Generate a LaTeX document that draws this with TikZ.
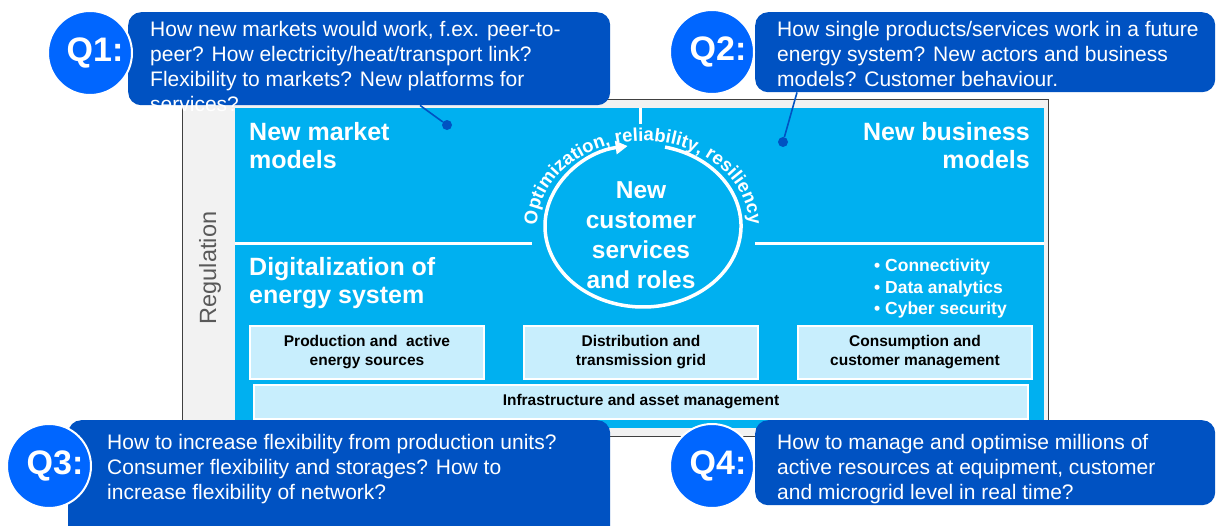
\documentclass[tikz,border=0pt]{standalone}
\usepackage{fontspec}
\setmainfont{Liberation Sans}
\usetikzlibrary{positioning, arrows.meta, decorations.text, calc}

\definecolor{qdark}{RGB}{0,82,194}
\definecolor{qlight}{RGB}{0,102,255}
\definecolor{panelblue}{RGB}{0,176,240}
\definecolor{boxblue}{RGB}{200,238,253}
\definecolor{framegray}{RGB}{242,242,242}
\definecolor{frameline}{RGB}{64,64,64}
\definecolor{reggray}{RGB}{89,89,89}

\begin{document}
\begin{tikzpicture}
    [
        x=1pt, y=1pt, node distance=38pt,
        q_box/.style={rectangle, rounded corners=13pt, fill=qdark, draw=none, inner sep=0pt, anchor=north west},
        q_circle/.style={circle, fill=qlight, draw=white, line width=2pt, minimum size=84pt, inner sep=0pt},
        q_label/.style={text=white, inner sep=0pt, font=\fontsize{34}{34}\selectfont\bfseries},
        q_text/.style={text=white, anchor=north west, align=left, inner sep=0pt, font=\fontsize{21}{25}\selectfont},
        pointer/.style={draw=qdark, line width=1.6pt},
        pin_dot/.style={circle, fill=qdark, minimum size=10pt, inner sep=0pt},
        head_text/.style={text=white, inner sep=0pt, font=\fontsize{25}{28.5}\selectfont\bfseries},
        light_box/.style={rectangle, fill=boxblue, draw=white, line width=2pt, minimum height=53pt, minimum width=234pt, inner sep=0pt, align=center, font=\fontsize{15.5}{19}\selectfont\bfseries},
        separator/.style={draw=white, line width=3pt},
        hub_ring/.style={draw=white, line width=3.5pt, -{Triangle[length=12pt, width=13pt]}},
    ]
        \clip (0,0) rectangle (1217,-525) ;

        % frame and panel
        \draw[fill=framegray, draw=frameline, line width=0.8pt] (182,-99) rectangle (1048,-436) ;
        \fill[panelblue] (235,-108) rectangle (1044,-428) ;
        \draw[separator] (640,-108) -- (640,-124) ;
        \draw[separator] (235,-243) -- (532,-243) ;
        \draw[separator] (755,-243) -- (1044,-243) ;

        \node[rotate=90, text=reggray, inner sep=0pt, font=\fontsize{23.5}{23.5}\selectfont] (reg) at (210,-268) {Regulation} ;

        \node[head_text, anchor=north west, align=left] (market) at (249,-122) {New market\\models} ;
        \node[head_text, anchor=north east, align=right] (business) at (1030,-122) {New business\\models} ;
        \node[head_text, anchor=north west, align=left] (digital) at (249,-257) {Digitalization of\\energy system} ;
        \node[text=white, anchor=north west, align=left, inner sep=0pt, font=\fontsize{17.5}{21.5}\selectfont\bfseries] (bullets) at (874,-259) {• Connectivity\\• Data analytics\\• Cyber security} ;

        % hub
        \coordinate (hub_c) at (643,-226) ;
        \node[head_text, anchor=north, align=center, font=\fontsize{24.5}{30}\selectfont\bfseries] (hub) at (641,-181) {New\\customer\\services\\and roles} ;
        \draw[hub_ring] ($(hub_c)+(77:98pt and 81pt)$) arc[start angle=77, end angle=-261, x radius=98pt, y radius=81pt] ;
        \path[decorate, decoration={text along path, text align=center, text={|\fontsize{18.5}{18.5}\selectfont\bfseries\color{white}|Optimization, reliability, resiliency}}] ($(hub_c)+(190:106pt and 85pt)$) arc[start angle=190, end angle=-10, x radius=106pt, y radius=85pt] ;

        % light boxes
        \node[light_box] (prod) at (367,-352.5) {Production and\ \ active\\energy sources} ;
        \node[light_box] (dist) [right=of prod] {Distribution and\\transmission grid} ;
        \node[light_box] (cons) [right=of dist] {Consumption and\\customer management} ;
        \node[light_box, minimum width=774pt, minimum height=34pt] (infra) at (641,-401.5) {Infrastructure and asset management} ;

        % questions
        \node[q_box, minimum width=482pt, minimum height=93pt] (q1_box) at (128,-12) {} ;
        \node[q_box, minimum width=460pt, minimum height=80pt] (q2_box) at (755,-12) {} ;
        \node[q_box, minimum width=542pt, minimum height=125pt] (q3_box) at (68,-420) {} ;
        \node[q_box, minimum width=460pt, minimum height=85pt] (q4_box) at (755,-420) {} ;

        \node[q_circle] (q1) at (90,-53) {} ;
        \node[q_circle] (q2) at (712,-52) {} ;
        \node[q_circle] (q3) at (49,-466) {} ;
        \node[q_circle] (q4) at (712,-466) {} ;
        \node[q_label] (q1_label) at (95,-53) {Q1:} ;
        \node[q_label] (q2_label) at (718,-52) {Q2:} ;
        \node[q_label] (q3_label) at (55,-466) {Q3:} ;
        \node[q_label] (q4_label) at (718,-466) {Q4:} ;

        \node[q_text] (q1_text) at (150,-21) {How new markets would work, f.ex. peer-to-\\peer? How electricity/heat/transport link?\\Flexibility to markets? New platforms for\\services?} ;
        \node[q_text] (q2_text) at (777,-21) {How single products/services work in a future\\energy system? New actors and business\\models? Customer behaviour.} ;
        \node[q_text] (q3_text) at (107,-434) {How to increase flexibility from production units?\\Consumer flexibility and storages? How to\\increase flexibility of network?} ;
        \node[q_text] (q4_text) at (777,-434) {How to manage and optimise millions of\\active resources at equipment, customer\\and microgrid level in real time?} ;

        \coordinate (q1_tail) at ($(q1_box.south west)+(292,0)$) ;
        \coordinate (q2_tail) at ($(q2_box.south west)+(42,0)$) ;
        \node[pin_dot] (pin1) at (447,-125) {} ;
        \node[pin_dot] (pin2) at (783,-142) {} ;
        \draw[pointer] (q1_tail) -- (pin1) ;
        \draw[pointer] (q2_tail) -- (pin2) ;
\end{tikzpicture}
\end{document}
